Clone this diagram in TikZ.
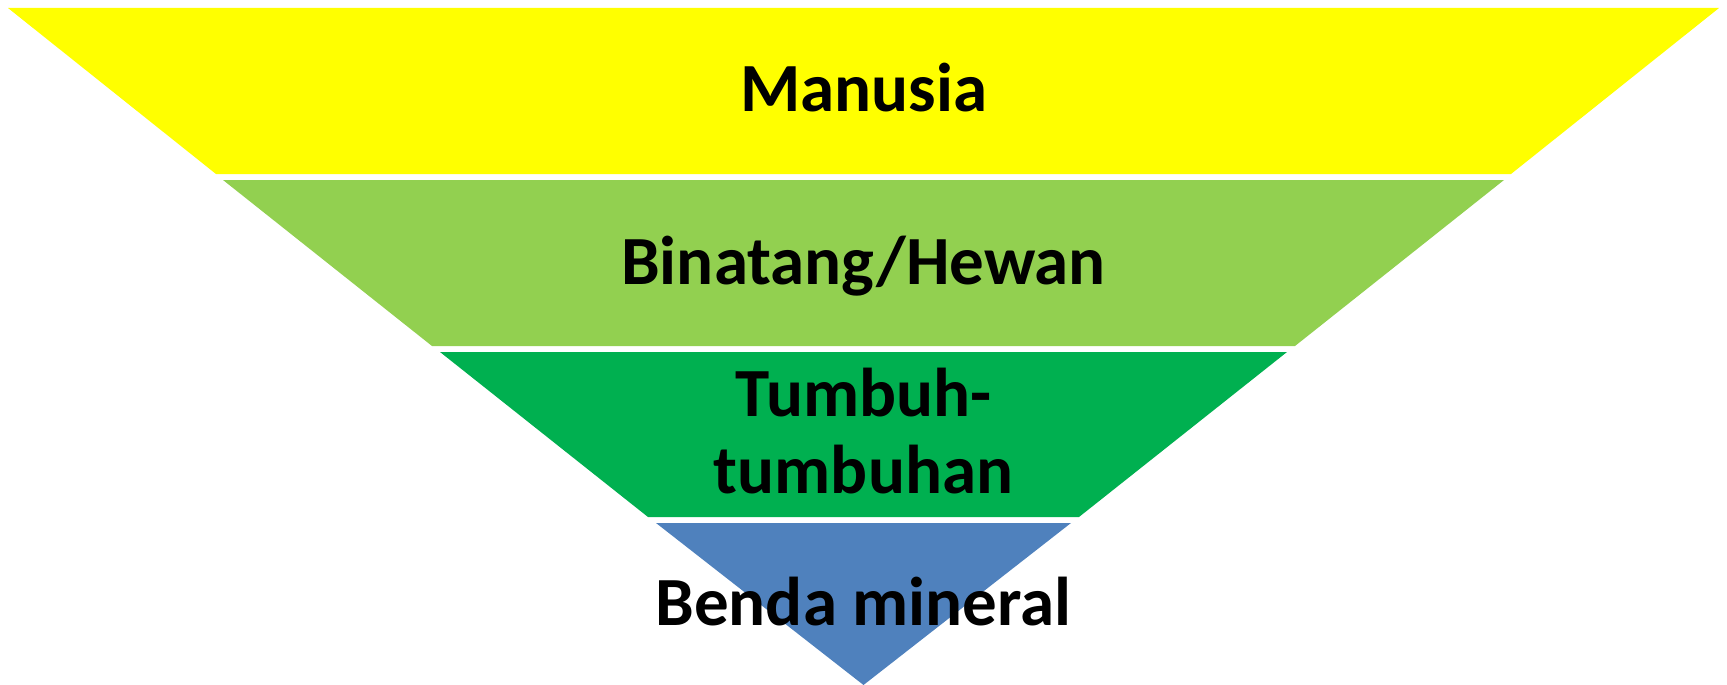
\documentclass[tikz,border=0pt]{standalone}
\usepackage{fontspec}
\setmainfont{Carlito}
\definecolor{cyellow}{HTML}{FFFF00}
\definecolor{clgreen}{HTML}{92D050}
\definecolor{cgreen}{HTML}{00B050}
\definecolor{cblue}{HTML}{4F81BD}
\begin{document}
\begin{tikzpicture}[x=1pt,y=-1pt,
  lbl/.style={anchor=base,inner sep=0pt,font=\fontsize{69}{79}\selectfont\bfseries,text=black}]
\useasboundingbox (0,0) rectangle (1727,685);
\fill[cyellow] (8,8) -- (1719,8) -- (1511,174) -- (216,174) -- cycle;
\fill[clgreen] (223,180) -- (1504,180) -- (1295,346) -- (432,346) -- cycle;
\fill[cgreen] (440,352) -- (1287,352) -- (1079,517) -- (648,517) -- cycle;
\fill[cblue] (656,523) -- (1071,523) -- (863.5,685) -- cycle;
\node[lbl] (manusia) at (863.5,111) {Manusia};
\node[lbl] (binatang) at (863.5,284) {Binatang/Hewan};
\node[lbl] (tumbuh1) at (863.5,416) {Tumbuh-};
\node[lbl] (tumbuh2) at (863.5,493) {tumbuhan};
\node[lbl] (benda) at (863.5,625) {Benda mineral};
\end{tikzpicture}
\end{document}
